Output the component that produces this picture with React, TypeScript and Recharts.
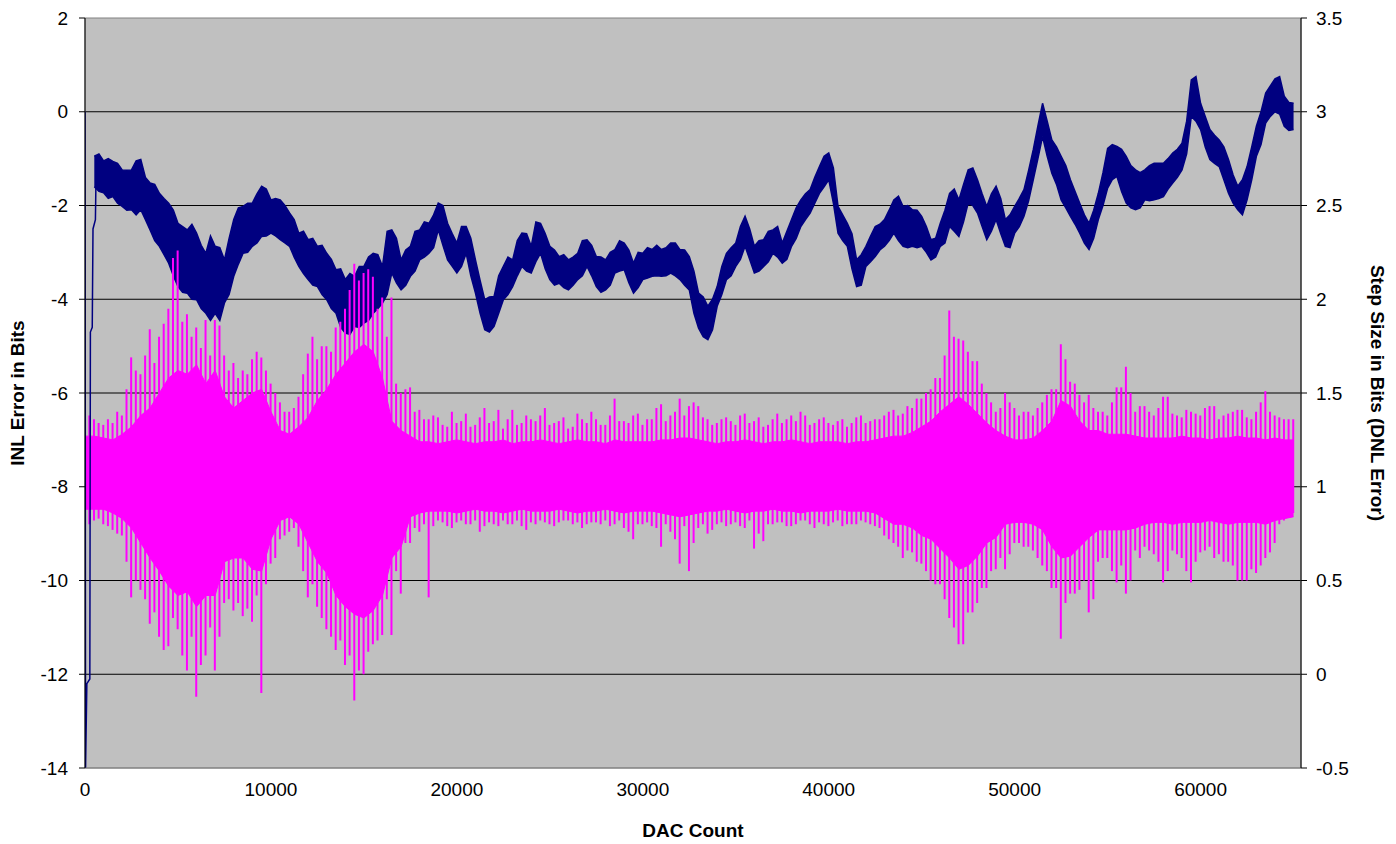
import {
  ComposedChart,
  Area,
  Bar,
  Line,
  XAxis,
  YAxis,
  CartesianGrid,
  ReferenceArea,
} from "recharts";

// main samples every 500 DAC counts (0 .. 65000), in-between samples at +250
const STEP = 500;

// INL band (left axis), upper / lower edge of the trace
const inlHigh = [
  null, -0.95, -1.05, -1.06, -1.24, -1.24, -1.02, -1.52, -1.74, -1.95,
  -2.38, -2.52, -2.59, -3.02, -2.87, -3.16, -2.3, -2.02, -1.95, -1.59,
  -1.88, -1.88, -2.16, -2.59, -2.73, -2.87, -3.02, -3.37, -3.58, -3.51,
  -3.3, -3.02, -3.3, -2.52, -3.16, -2.87, -2.52, -2.38, -1.95, -2.38,
  -2.8, -2.45, -3.16, -4.01, -3.94, -3.3, -3.16, -2.59, -2.87, -2.38,
  -2.87, -3.09, -3.16, -3.02, -2.73, -3.09, -3.16, -2.94, -2.8, -3.23,
  -3.02, -2.94, -2.94, -2.8, -2.94, -3.09, -3.87, -4.15, -3.73, -3.02,
  -2.8, -2.23, -2.87, -2.73, -2.52, -2.8, -2.3, -1.88, -1.66, -1.17,
  -0.88, -2.02, -2.38, -3.16, -2.87, -2.45, -2.3, -1.88, -2.02, -2.09,
  -2.23, -2.73, -2.38, -1.74, -1.88, -1.24, -1.45, -2.02, -1.59, -2.3,
  -2.02, -1.66, -0.81, 0.18, -0.6, -0.95, -1.45, -1.95, -2.38, -1.74,
  -0.78, -0.74, -0.95, -1.24, -1.24, -1.1, -1.1, -0.88, -0.67, 0.68,
  0.18, -0.38, -0.6, -1.02, -1.59, -1.17, -0.31, 0.4, 0.7, 0.33,
  0.18,
];
const inlLow = [
  null, -1.6, -1.73, -1.81, -2.02, -2.09, -2.09, -2.52, -2.87, -3.23,
  -3.73, -3.87, -4.01, -4.3, -4.3, -4.08, -3.51, -3.02, -2.87, -2.66,
  -2.59, -2.73, -2.87, -3.3, -3.58, -3.73, -4.01, -4.3, -4.72, -4.58,
  -4.51, -4.3, -4.08, -3.44, -3.8, -3.51, -3.16, -3.02, -2.52, -3.16,
  -3.44, -3.02, -3.87, -4.65, -4.58, -4.01, -3.73, -3.3, -3.44, -3.02,
  -3.58, -3.66, -3.8, -3.58, -3.3, -3.73, -3.8, -3.44, -3.37, -3.87,
  -3.58, -3.51, -3.51, -3.44, -3.58, -3.8, -4.62, -4.86, -4.15, -3.58,
  -3.3, -2.87, -3.44, -3.3, -3.02, -3.23, -2.87, -2.45, -2.16, -1.74,
  -1.45, -2.59, -2.87, -3.73, -3.3, -3.09, -2.87, -2.59, -2.87, -2.87,
  -2.87, -3.16, -2.87, -2.45, -2.66, -1.95, -2.16, -2.73, -2.3, -2.87,
  -2.59, -2.23, -1.45, -0.53, -1.31, -1.88, -2.23, -2.59, -2.94, -2.3,
  -1.63, -1.38, -1.95, -2.09, -1.88, -1.88, -1.81, -1.52, -1.24, -0.1,
  -0.38, -1.02, -1.17, -1.74, -2.09, -1.88, -0.95, -0.24, 0.0, -0.31,
  -0.38,
];
// INL band read half-way between the main samples (250, 750, ... 64750)
const inlMidHigh = [
  null, -0.9, -1.0, -1.1, -1.25, -1.05, -1.4, -1.55, -1.85, -2.1,
  -2.45, -2.4, -2.85, -2.65, -2.9, -2.7, -2.05, -1.95, -1.75, -1.65,
  -1.85, -2.0, -2.3, -2.55, -2.7, -2.85, -3.15, -3.35, -3.45, -3.3,
  -3.1, -3.05, -2.55, -2.7, -2.95, -2.55, -2.35, -2.2, -2.0, -2.6,
  -2.45, -2.7, -3.6, -3.95, -3.5, -3.1, -2.75, -2.6, -2.35, -2.6,
  -2.95, -3.05, -3.1, -2.75, -2.85, -3.1, -3.0, -2.75, -2.95, -3.0,
  -2.9, -2.85, -2.9, -2.8, -2.95, -3.4, -3.95, -4.0, -3.3, -2.9,
  -2.45, -2.5, -2.75, -2.55, -2.45, -2.55, -2.05, -1.75, -1.4, -0.95,
  -1.2, -2.2, -2.6, -3.05, -2.65, -2.4, -2.1, -1.8, -2.0, -2.1,
  -2.45, -2.7, -2.1, -1.65, -1.55, -1.2, -1.75, -1.75, -1.85, -2.2,
  -1.85, -1.25, -0.3, -0.2, -0.75, -1.15, -1.7, -2.2, -2.1, -1.3,
  -0.7, -0.8, -1.15, -1.3, -1.15, -1.1, -1.0, -0.8, -0.2, 0.75,
  -0.1, -0.5, -0.75, -1.35, -1.45, -0.75, 0.0, 0.55, 0.75, 0.2,
];
const inlMidLow = [
  null, -1.7, -1.85, -1.95, -2.1, -2.2, -2.3, -2.75, -3.05, -3.5,
  -3.85, -4.0, -4.2, -4.45, -4.45, -3.9, -3.25, -3.0, -2.8, -2.65,
  -2.65, -2.8, -3.1, -3.45, -3.7, -3.9, -4.2, -4.6, -4.75, -4.6,
  -4.45, -4.2, -3.9, -3.65, -3.7, -3.4, -3.1, -2.9, -2.85, -3.3,
  -3.3, -3.5, -4.3, -4.7, -4.3, -3.9, -3.5, -3.4, -3.2, -3.35,
  -3.7, -3.75, -3.7, -3.5, -3.5, -3.85, -3.7, -3.4, -3.65, -3.75,
  -3.55, -3.5, -3.5, -3.5, -3.7, -4.3, -4.8, -4.65, -3.9, -3.5,
  -3.15, -3.15, -3.4, -3.2, -3.1, -3.15, -2.7, -2.3, -1.95, -1.6,
  -1.95, -2.75, -3.35, -3.7, -3.2, -2.95, -2.75, -2.75, -2.9, -2.9,
  -3.0, -3.1, -2.8, -2.55, -2.35, -2.0, -2.45, -2.55, -2.6, -2.9,
  -2.45, -1.9, -1.0, -0.95, -1.55, -2.05, -2.4, -2.8, -2.7, -2.0,
  -1.45, -1.7, -2.05, -2.05, -1.9, -1.85, -1.65, -1.4, -0.9, -0.2,
  -0.75, -1.1, -1.45, -1.95, -2.2, -1.45, -0.7, -0.1, -0.05, -0.4,
];

// power-up transient at the very start of the INL trace
const inlStartCounts = [0, 30, 100, 260, 290, 390, 430, 560, 600];
const inlStartValues = [0, -14, -12.2, -12.1, -4.7, -4.6, -2.5, -2.3, -1.2];

// DNL (right axis): dense core of the trace (every 500 counts)
const dnlCoreHigh = [
  1.27, 1.27, 1.26, 1.25, 1.28, 1.32, 1.38, 1.42, 1.5, 1.58,
  1.62, 1.6, 1.65, 1.55, 1.62, 1.48, 1.42, 1.46, 1.5, 1.52,
  1.4, 1.3, 1.28, 1.32, 1.37, 1.46, 1.52, 1.6, 1.66, 1.72,
  1.76, 1.72, 1.58, 1.35, 1.3, 1.27, 1.24, 1.24, 1.23, 1.24,
  1.25, 1.24, 1.23, 1.24, 1.24, 1.25, 1.23, 1.24, 1.24, 1.25,
  1.24, 1.23, 1.24, 1.25, 1.24, 1.24, 1.23, 1.25, 1.24, 1.24,
  1.24, 1.24, 1.25, 1.25, 1.26, 1.26, 1.25, 1.24, 1.23, 1.24,
  1.24, 1.25, 1.24, 1.23, 1.24, 1.24, 1.25, 1.24, 1.23, 1.24,
  1.24, 1.24, 1.23, 1.24, 1.24, 1.25, 1.26, 1.27, 1.27, 1.29,
  1.32, 1.35, 1.4, 1.44, 1.48, 1.44, 1.39, 1.34, 1.3, 1.27,
  1.25, 1.25, 1.26, 1.3, 1.35, 1.46, 1.43, 1.35, 1.3, 1.3,
  1.28, 1.28, 1.28, 1.27, 1.26, 1.26, 1.26, 1.26, 1.27, 1.26,
  1.26, 1.25, 1.26, 1.26, 1.27, 1.26, 1.26, 1.25, 1.26, 1.25,
  1.25,
];
const dnlCoreLow = [
  0.88, 0.88, 0.88, 0.86, 0.83, 0.78, 0.7, 0.62, 0.55, 0.47,
  0.42, 0.44, 0.36, 0.42, 0.42, 0.6, 0.62, 0.62, 0.56, 0.55,
  0.72, 0.82, 0.84, 0.8, 0.7, 0.6, 0.54, 0.42, 0.36, 0.32,
  0.3, 0.34, 0.42, 0.62, 0.68, 0.84, 0.86, 0.87, 0.87, 0.87,
  0.86, 0.87, 0.88, 0.87, 0.87, 0.86, 0.87, 0.88, 0.87, 0.87,
  0.87, 0.88, 0.87, 0.86, 0.87, 0.87, 0.88, 0.87, 0.86, 0.87,
  0.87, 0.87, 0.86, 0.85, 0.84, 0.85, 0.86, 0.87, 0.87, 0.88,
  0.87, 0.86, 0.87, 0.87, 0.88, 0.87, 0.87, 0.86, 0.87, 0.87,
  0.87, 0.88, 0.87, 0.87, 0.87, 0.86, 0.83, 0.8, 0.8, 0.78,
  0.74, 0.72, 0.67, 0.62, 0.56, 0.58, 0.63, 0.7, 0.73, 0.8,
  0.81, 0.81, 0.8, 0.77, 0.68, 0.62, 0.63, 0.68, 0.73, 0.77,
  0.77, 0.77, 0.77, 0.78, 0.8, 0.81, 0.81, 0.8, 0.81, 0.81,
  0.81, 0.82, 0.81, 0.8, 0.81, 0.81, 0.81, 0.8, 0.82, 0.83,
  0.84,
];
// DNL spike extremes at the main samples
const dnlSpikeHigh = [
  1.41, 1.36, 1.33, 1.34, 1.38, 1.69, 1.6, 1.84, 1.8, 1.95,
  2.26, 1.92, 1.85, 1.89, 1.89, 1.7, 1.66, 1.62, 1.68, 1.69,
  1.55, 1.45, 1.4, 1.48, 1.71, 1.68, 1.75, 1.85, 1.95, 2.19,
  2.14, 2.12, 2.01, 2.01, 1.5, 1.53, 1.41, 1.36, 1.37, 1.32,
  1.34, 1.39, 1.33, 1.42, 1.35, 1.31, 1.41, 1.34, 1.36, 1.38,
  1.33, 1.35, 1.31, 1.39, 1.34, 1.36, 1.33, 1.47, 1.35, 1.38,
  1.33, 1.36, 1.44, 1.38, 1.47, 1.43, 1.43, 1.36, 1.34, 1.37,
  1.33, 1.39, 1.35, 1.32, 1.36, 1.34, 1.38, 1.4, 1.33, 1.36,
  1.34, 1.35, 1.32, 1.37, 1.34, 1.36, 1.38, 1.41, 1.39, 1.42,
  1.47, 1.52, 1.58, 1.94, 1.79, 1.72, 1.67, 1.5, 1.4, 1.5,
  1.42, 1.4, 1.38, 1.45, 1.52, 1.76, 1.56, 1.49, 1.49, 1.4,
  1.38, 1.53, 1.64, 1.4, 1.43, 1.38, 1.48, 1.39, 1.37, 1.4,
  1.38, 1.43, 1.36, 1.39, 1.41, 1.37, 1.4, 1.51, 1.38, 1.36,
  1.36,
];
const dnlSpikeLow = [
  0.8, 0.82, 0.8, 0.77, 0.74, 0.41, 0.45, 0.27, 0.2, 0.15,
  0.24, 0.02, -0.12, 0.1, 0.02, 0.38, 0.34, 0.31, 0.28, -0.1,
  0.59, 0.72, 0.76, 0.68, 0.41, 0.36, 0.24, 0.13, 0.05, -0.14,
  0.0, 0.16, 0.21, 0.21, 0.43, 0.7, 0.76, 0.41, 0.82, 0.79,
  0.81, 0.8, 0.82, 0.79, 0.8, 0.82, 0.8, 0.79, 0.81, 0.82,
  0.8, 0.81, 0.82, 0.81, 0.8, 0.81, 0.82, 0.8, 0.78, 0.72,
  0.8, 0.79, 0.68, 0.76, 0.59, 0.55, 0.78, 0.75, 0.8, 0.79,
  0.81, 0.78, 0.67, 0.71, 0.8, 0.81, 0.79, 0.82, 0.8, 0.81,
  0.79, 0.82, 0.8, 0.8, 0.81, 0.79, 0.74, 0.7, 0.62, 0.65,
  0.59, 0.5, 0.48, 0.3, 0.16, 0.33, 0.38, 0.46, 0.56, 0.56,
  0.7, 0.68, 0.66, 0.58, 0.46, 0.19, 0.43, 0.45, 0.33, 0.6,
  0.62, 0.49, 0.43, 0.66, 0.68, 0.64, 0.49, 0.66, 0.62, 0.49,
  0.65, 0.68, 0.64, 0.6, 0.5, 0.5, 0.54, 0.62, 0.7, 0.82,
  0.86,
];
// DNL spike extremes half-way between the main samples
const dnlMidSpikeHigh = [
  1.38, 1.34, 1.36, 1.4, 1.52, 1.62, 1.7, 1.66, 1.87, 2.22,
  1.88, 1.8, 1.74, 1.7, 1.86, 1.62, 1.58, 1.6, 1.72, 1.62,
  1.5, 1.4, 1.42, 1.6, 1.8, 1.75, 1.72, 1.88, 2.05, 2.1,
  2.16, 1.95, 1.8, 1.55, 1.52, 1.4, 1.36, 1.38, 1.33, 1.4,
  1.35, 1.32, 1.37, 1.34, 1.41, 1.36, 1.33, 1.38, 1.35, 1.42,
  1.34, 1.37, 1.32, 1.36, 1.4, 1.33, 1.38, 1.35, 1.34, 1.39,
  1.36, 1.42, 1.35, 1.4, 1.38, 1.45, 1.37, 1.33, 1.36, 1.35,
  1.38, 1.34, 1.37, 1.33, 1.39, 1.36, 1.35, 1.38, 1.34, 1.37,
  1.33, 1.36, 1.34, 1.38, 1.35, 1.36, 1.4, 1.38, 1.43, 1.47,
  1.5, 1.58, 1.7, 1.8, 1.78, 1.67, 1.55, 1.45, 1.42, 1.45,
  1.38, 1.4, 1.42, 1.49, 1.52, 1.68, 1.55, 1.45, 1.42, 1.4,
  1.45, 1.53, 1.5, 1.43, 1.4, 1.42, 1.48, 1.38, 1.41, 1.39,
  1.42, 1.43, 1.38, 1.4, 1.41, 1.36, 1.45, 1.4, 1.37, 1.36,
];
const dnlMidSpikeLow = [
  0.8, 0.83, 0.79, 0.75, 0.6, 0.5, 0.4, 0.33, 0.13, 0.3,
  0.1, 0.2, 0.05, 0.25, 0.2, 0.4, 0.38, 0.35, 0.42, 0.48,
  0.62, 0.74, 0.78, 0.55, 0.48, 0.3, 0.2, 0.18, 0.1, 0.02,
  0.12, 0.18, 0.4, 0.55, 0.7, 0.78, 0.8, 0.79, 0.81, 0.78,
  0.82, 0.8, 0.76, 0.81, 0.79, 0.8, 0.82, 0.77, 0.8, 0.81,
  0.79, 0.82, 0.8, 0.78, 0.81, 0.8, 0.79, 0.82, 0.76, 0.8,
  0.81, 0.78, 0.8, 0.72, 0.79, 0.7, 0.8, 0.77, 0.81, 0.8,
  0.79, 0.82, 0.75, 0.8, 0.81, 0.79, 0.8, 0.82, 0.78, 0.8,
  0.81, 0.79, 0.8, 0.82, 0.8, 0.78, 0.72, 0.68, 0.66, 0.6,
  0.55, 0.48, 0.4, 0.25, 0.16, 0.33, 0.46, 0.55, 0.62, 0.64,
  0.7, 0.68, 0.62, 0.55, 0.46, 0.38, 0.43, 0.5, 0.4, 0.62,
  0.55, 0.58, 0.5, 0.62, 0.66, 0.6, 0.55, 0.64, 0.55, 0.6,
  0.66, 0.62, 0.6, 0.58, 0.5, 0.56, 0.58, 0.65, 0.8, 0.84,
];

const xTicks = [0, 10000, 20000, 30000, 40000, 50000, 60000];
const inlTicks = [-14, -12, -10, -8, -6, -4, -2, 0, 2];
const dnlTicks = [-0.5, 0, 0.5, 1, 1.5, 2, 2.5, 3, 3.5];
const X_MAX = 65400;

const NAVY = "#000080";
const PINK = "#FF00FF";
const FONT = "'Liberation Sans', Arial, sans-serif";

// interleave main and half-way samples into one table
const rows: any[] = [];
inlHigh.forEach((hi, i) => {
  rows.push({
    count: i * STEP,
    inl: hi === null ? null : [inlLow[i], hi],
    core: [dnlCoreLow[i], dnlCoreHigh[i]],
    spike: [dnlSpikeLow[i], dnlSpikeHigh[i]],
  });
  if (i < inlMidHigh.length) {
    const mh = inlMidHigh[i];
    rows.push({
      count: i * STEP + STEP / 2,
      inl: mh === null ? null : [inlMidLow[i], mh],
      spike: [dnlMidSpikeLow[i], dnlMidSpikeHigh[i]],
    });
  }
});

// the transient has its own (hidden) x axis so its close-spaced points
// don't shrink the bar width of the spike series
const startRows = inlStartCounts.map((c, i) => ({
  count: c,
  start: inlStartValues[i],
}));

const tickStyle = { fill: "#000", fontSize: 19, fontFamily: FONT };

const titleStyle: React.CSSProperties = {
  position: "absolute",
  whiteSpace: "nowrap",
  fontWeight: "bold",
  fontSize: 19,
};

export default function App() {
  return (
    <div
      style={{
        position: "absolute",
        left: 0,
        top: 0,
        width: 1396,
        height: 844,
        background: "#fff",
        fontFamily: FONT,
      }}
    >
      <ComposedChart
        width={1396}
        height={844}
        data={rows}
        margin={{ top: 18, right: 25, bottom: 36, left: 15 }}
      >
        <CartesianGrid
          yAxisId="inl"
          vertical={false}
          horizontalValues={[-12, -10, -8, -6, -4, -2, 0]}
          stroke="#000"
          fill="#C0C0C0"
          fillOpacity={1}
        />
        <ReferenceArea
          yAxisId="inl"
          x1={0}
          x2={X_MAX}
          y1={-14}
          y2={2}
          fill="none"
          stroke="#808080"
        />
        <XAxis
          dataKey="count"
          type="number"
          domain={[0, X_MAX]}
          ticks={xTicks}
          allowDataOverflow
          height={40}
          tickLine={false}
          tickSize={0}
          tickMargin={15}
          axisLine={{ stroke: "#808080" }}
          tick={tickStyle}
        />
        <XAxis
          xAxisId="start"
          dataKey="count"
          type="number"
          domain={[0, X_MAX]}
          allowDataOverflow
          hide
        />
        <YAxis
          yAxisId="inl"
          orientation="left"
          width={70}
          domain={[-14, 2]}
          ticks={inlTicks}
          allowDataOverflow
          tickSize={6}
          tickMargin={11}
          axisLine={{ stroke: "#000" }}
          tickLine={{ stroke: "#000" }}
          tick={tickStyle}
        />
        <YAxis
          yAxisId="dnl"
          orientation="right"
          width={70}
          domain={[-0.5, 3.5]}
          ticks={dnlTicks}
          allowDataOverflow
          tickSize={6}
          tickMargin={9}
          axisLine={{ stroke: "#000" }}
          tickLine={{ stroke: "#000" }}
          tick={tickStyle}
        />
        <Area
          yAxisId="inl"
          type="linear"
          dataKey="inl"
          stroke={NAVY}
          strokeWidth={1.5}
          fill={NAVY}
          fillOpacity={1}
          isAnimationActive={false}
        />
        <Area
          yAxisId="dnl"
          type="linear"
          dataKey="core"
          connectNulls
          stroke={PINK}
          strokeWidth={1}
          fill={PINK}
          fillOpacity={1}
          isAnimationActive={false}
        />
        <Bar
          yAxisId="dnl"
          dataKey="spike"
          fill={PINK}
          fillOpacity={1}
          barSize={2}
          isAnimationActive={false}
        />
        <Line
          xAxisId="start"
          yAxisId="inl"
          data={startRows}
          dataKey="start"
          type="linear"
          stroke={NAVY}
          strokeWidth={1.5}
          dot={false}
          isAnimationActive={false}
        />
      </ComposedChart>

      <div
        style={{
          ...titleStyle,
          left: 18,
          top: 393,
          transform: "translate(-50%, -50%) rotate(-90deg)",
        }}
      >
        INL Error in Bits
      </div>
      <div
        style={{
          ...titleStyle,
          left: 1377,
          top: 393,
          transform: "translate(-50%, -50%) rotate(90deg)",
        }}
      >
        Step Size in Bits (DNL Error)
      </div>
      <div
        style={{
          ...titleStyle,
          left: 693,
          top: 831,
          transform: "translate(-50%, -50%)",
        }}
      >
        DAC Count
      </div>
    </div>
  );
}
